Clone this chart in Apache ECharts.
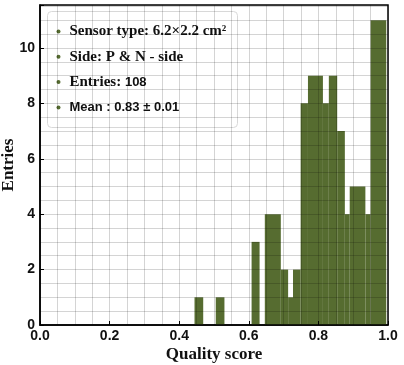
<!DOCTYPE html>
<html>
<head>
<meta charset="utf-8">
<script src="https://cdn.jsdelivr.net/npm/echarts@6/dist/echarts.min.js"></script>
<style>html,body{margin:0;padding:0;background:#fff}#c{width:404px;height:365px}</style>
</head>
<body>
<div id="c"></div>
<script>
// Histogram segments: left edge, right edge, entries
const binLeft  = [0.444, 0.505, 0.608, 0.646, 0.692, 0.713, 0.727, 0.749, 0.770, 0.813, 0.830, 0.854, 0.876, 0.890, 0.935, 0.950];
const binRight = [0.469, 0.530, 0.631, 0.692, 0.713, 0.727, 0.749, 0.770, 0.813, 0.830, 0.854, 0.876, 0.890, 0.935, 0.950, 0.995];
const counts   = [1, 1, 3, 4, 2, 1, 2, 8, 9, 8, 9, 7, 4, 5, 4, 11];
const xTicks = [0.0, 0.2, 0.4, 0.6, 0.8, 1.0];
const yTicks = [0, 2, 4, 6, 8, 10];
const legendLines = ['Sensor type: 6.2×2.2 cm²', 'Side: P & N - side', 'Entries: 108', 'Mean : 0.83 ± 0.01'];

const barColor = '#566c30';
const data = binLeft.map((l, i) => [l, binRight[i], counts[i]]);
const near = (v, arr) => arr.some(t => Math.abs(t - v) < 1e-6);

const chart = echarts.init(document.getElementById('c'), null, {renderer: 'canvas'});
const gridCol = 'rgba(0,0,0,0.17)';
const labelFont = {fontFamily: 'Liberation Sans', fontWeight: 'bold', fontSize: 14, color: '#111'};
const serifTitle = {fontFamily: 'Liberation Serif', fontWeight: 'bold', fontSize: 17, color: '#111'};

chart.setOption({
  animation: false,
  grid: {left: 40, right: 16, top: 5, bottom: 40, containLabel: false, outerBoundsMode: 'none',
         show: true, borderColor: '#000', borderWidth: 1.5, backgroundColor: 'transparent'},
  xAxis: [{
    type: 'value', min: 0, max: 1, interval: 0.2, z: 5,
    axisLine: {show: true, lineStyle: {color: '#000', width: 1.5}},
    axisTick: {show: true, inside: true, length: 4, lineStyle: {color: '#000'}},
    splitLine: {show: false},
    axisLabel: Object.assign({margin: 4, formatter: v => near(v, xTicks) ? v.toFixed(1) : ''}, labelFont),
    name: 'Quality score', nameLocation: 'middle', nameGap: 21, nameMoveOverlap: false,
    nameTextStyle: Object.assign({verticalAlign: 'top'}, serifTitle)
  }, {
    type: 'value', min: 0, max: 1, interval: 0.05, z: 5, position: 'top',
    axisLine: {show: false}, axisTick: {show: false}, axisLabel: {show: false},
    splitLine: {show: true, lineStyle: {color: gridCol, width: 1}}
  }],
  yAxis: [{
    type: 'value', min: 0, max: 11.55, interval: 2, z: 5,
    axisLine: {show: true, lineStyle: {color: '#000', width: 1.5}},
    axisTick: {show: true, inside: true, length: 4, lineStyle: {color: '#000'}},
    splitLine: {show: false},
    axisLabel: Object.assign({margin: 5, formatter: v => near(v, yTicks) ? String(Math.round(v)) : ''}, labelFont),
    name: 'Entries', nameLocation: 'middle', nameGap: 23, nameRotate: 90, nameMoveOverlap: false,
    nameTextStyle: serifTitle
  }, {
    type: 'value', min: 0, max: 11.55, interval: 0.5, z: 5, position: 'right',
    axisLine: {show: false}, axisTick: {show: false}, axisLabel: {show: false},
    splitLine: {show: true, lineStyle: {color: gridCol, width: 1}}
  }],
  series: [{
    type: 'custom',
    xAxisIndex: 0, yAxisIndex: 0,
    encode: {x: [0, 1], y: 2},
    data: data,
    z: 2,
    renderItem: function (params, api) {
      const p0 = api.coord([api.value(0), api.value(2)]);
      const p1 = api.coord([api.value(1), 0]);
      return {
        type: 'rect',
        shape: {x: p0[0], y: p0[1], width: p1[0] - p0[0], height: p1[1] - p0[1]},
        style: {fill: barColor}
      };
    }
  }],
  graphic: [{
    type: 'group', left: 47, top: 11, z: 100,
    children: [
      {type: 'rect', shape: {x: 0, y: 0, width: 190, height: 116, r: 4},
       style: {fill: 'rgba(255,255,255,0.92)', stroke: '#d8d8d8', lineWidth: 1}},
      ...legendLines.map((t, i) => ({
        type: 'circle', shape: {cx: 11, cy: 20 + i * 25.3, r: 2}, style: {fill: barColor}
      })),
      {type: 'text', x: 22, y: 20, style: {text: legendLines[0], font: 'bold 15px "Liberation Serif"', fill: '#111', verticalAlign: 'middle'}},
      {type: 'text', x: 22, y: 45.3, style: {text: legendLines[1], font: 'bold 15px "Liberation Serif"', fill: '#111', verticalAlign: 'middle'}},
      {type: 'text', x: 22, y: 70.6, style: {
        text: '{s|Entries: }{n|108}', verticalAlign: 'middle',
        rich: {s: {fontFamily: 'Liberation Serif', fontWeight: 'bold', fontSize: 15, fill: '#111', color: '#111'},
               n: {fontFamily: 'Liberation Sans', fontWeight: 'bold', fontSize: 13, fill: '#111', color: '#111'}}}},
      {type: 'text', x: 22, y: 95.9, style: {text: legendLines[3], font: 'bold 13px "Liberation Sans"', fill: '#111', verticalAlign: 'middle'}}
    ]
  }]
});
</script>
</body>
</html>
